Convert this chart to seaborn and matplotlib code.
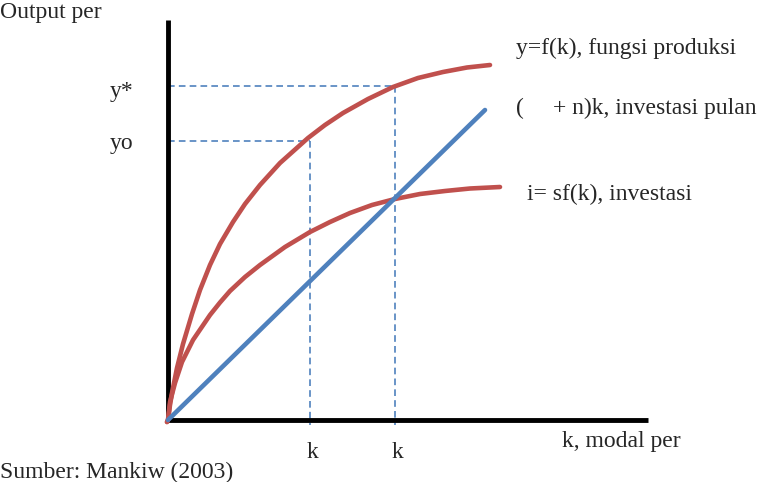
import matplotlib
matplotlib.use("Agg")
import pandas as pd
import seaborn as sns
import matplotlib.pyplot as plt

# curve points (k = capital per worker, y = output)
k_f = [-0.025, 0.0, 0.05, 0.1, 0.225, 0.375, 0.6, 0.8, 1.05, 1.3, 1.625, 1.925,
       2.3, 2.8, 3.5, 3.925, 4.375, 5.0, 5.625, 6.25, 6.875, 7.475, 8.05]
y_f = [-0.05, 0.0, 0.375, 0.675, 1.3, 1.9, 2.65, 3.25, 3.875, 4.4, 4.95, 5.4,
       5.875, 6.425, 7.05, 7.375, 7.675, 8.025, 8.325, 8.55, 8.7, 8.8125, 8.875]
k_sf = [-0.025, 0.0, 0.05, 0.175, 0.35, 0.625, 1.05, 1.3, 1.55, 1.925, 2.3,
        2.925, 3.55, 4.05, 4.55, 5.1, 5.675, 6.3, 6.925, 7.55, 8.3]
y_sf = [-0.05, 0.0, 0.45, 0.925, 1.45, 2.0, 2.625, 2.9375, 3.225, 3.575, 3.875,
        4.325, 4.7, 4.95, 5.175, 5.375, 5.525, 5.65, 5.725, 5.7875, 5.825]
k_dep = [0.0, 7.925]
y_dep = [0.0, 7.75]

k0, y0 = 3.55, 6.98
k_star, y_star = 5.675, 8.35

axis_k_max = 12.0
axis_y_max = 10.0

RED = "#C0504D"
BLUE = "#4F81BD"

sns.set_style("white")
plt.rcParams["font.family"] = ["Liberation Serif", "DejaVu Serif"]

fig = plt.figure(figsize=(7.61, 4.82), dpi=100)
ax = fig.add_axes([0, 0, 1, 1])
ax.set_xlim(-4.2, 14.825)
ax.set_ylim(-1.55, 10.5)
ax.axis("off")

# guide lines
dash = dict(color=BLUE, lw=1.2, dashes=(4, 2.5))
ax.plot([0, k_star], [y_star, y_star], **dash)
ax.plot([k_star, k_star], [y_star, -0.12], **dash)
ax.plot([0, k0], [y0, y0], **dash)
ax.plot([k0, k0], [y0, -0.12], **dash)

# axes
ax.plot([0, 0], [0, axis_y_max], color="black", lw=3.5, solid_capstyle="butt")
ax.plot([0, axis_k_max], [0, 0], color="black", lw=3.5, solid_capstyle="butt")

f_df = pd.DataFrame({"k": k_f, "y": y_f})
sf_df = pd.DataFrame({"k": k_sf, "y": y_sf})
dep_df = pd.DataFrame({"k": k_dep, "y": y_dep})

line_kw = dict(lw=3.3, sort=False, estimator=None, ax=ax)
sns.lineplot(data=f_df, x="k", y="y", color=RED, **line_kw)
sns.lineplot(data=sf_df, x="k", y="y", color=RED, **line_kw)
sns.lineplot(data=dep_df, x="k", y="y", color=BLUE, **line_kw)
for ln in ax.lines[-3:]:
    ln.set_solid_joinstyle("round")

fs = 17
ax.text(-4.2, 10.05, "Output per", fontsize=fs, va="baseline", ha="left")
ax.text(-1.45, 8.2, "y*", fontsize=fs, va="center", ha="left")
ax.text(-1.45, 6.9, "yo", fontsize=fs, va="center", ha="left")
ax.text(8.7, 9.3, "y=f(k), fungsi produksi", fontsize=fs, va="center", ha="left")
ax.text(8.7, 7.8, "(", fontsize=fs, va="center", ha="left")
ax.text(9.62, 7.8, "+ n)k, investasi pulan", fontsize=fs, va="center", ha="left")
ax.text(8.975, 5.65, "i= sf(k), investasi", fontsize=fs, va="center", ha="left")
ax.text(3.6, -0.8, "k", fontsize=fs, va="center", ha="center")
ax.text(5.725, -0.8, "k", fontsize=fs, va="center", ha="center")
ax.text(9.85, -0.55, "k, modal per", fontsize=fs, va="center", ha="left")
ax.text(-4.2, -1.3, "Sumber: Mankiw (2003)", fontsize=fs, va="center", ha="left")

fig.savefig("out.png", dpi=100)
